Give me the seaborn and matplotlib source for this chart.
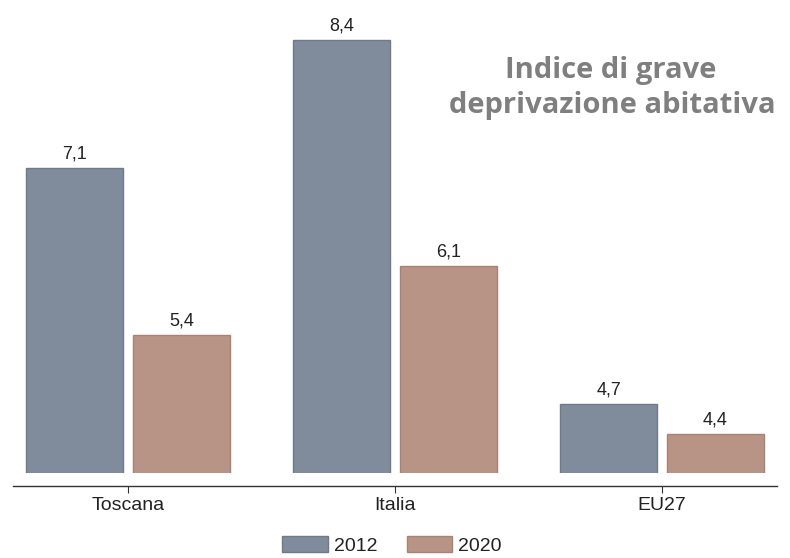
import matplotlib
matplotlib.use("Agg")
import matplotlib.pyplot as plt
import seaborn as sns
import pandas as pd

regions = ["Toscana", "Italia", "EU27"]
years = ["2012", "2020"]
values_2012 = [7.1, 8.4, 4.7]
values_2020 = [5.4, 6.1, 4.4]
title_lines = ["Indice di grave", "deprivazione abitativa"]

colors = {"2012": "#808c9c", "2020": "#b79486"}
edges = {"2012": "#6c7a8c", "2020": "#a88272"}

df = pd.DataFrame({
    "region": regions * 2,
    "year": ["2012"] * 3 + ["2020"] * 3,
    "value": values_2012 + values_2020,
})

sns.set_style("white")
plt.rcParams["font.family"] = ["Liberation Sans", "DejaVu Sans"]

W, H = 790, 558
fig = plt.figure(figsize=(W / 100, H / 100), dpi=100)
ax_left, ax_right = 13 / W, 777 / W
ax_bottom = (H - 473) / H
ax = fig.add_axes([ax_left, ax_bottom, ax_right - ax_left, 1 - ax_bottom])

sns.barplot(data=df, x="region", y="value", hue="year", order=regions,
            hue_order=years, palette=colors, width=0.8, gap=0.09,
            saturation=1, linewidth=1, ax=ax, legend=False)

for cont, yr in zip(ax.containers, years):
    for p in cont:
        p.set_edgecolor(edges[yr])
        p.set_linewidth(1.0)
    labels = [f"{v:.1f}".replace(".", ",") for v in cont.datavalues]
    ax.bar_label(cont, labels=labels, padding=4, fontsize=13, color="#222222")

ax.set_xlim(-0.43, 2.43)
ax.set_ylim(4.0, 4.0 + 473 / 98.5)
ax.set_xlabel("")
ax.set_ylabel("")
ax.set_yticks([])
for s in ["left", "top", "right"]:
    ax.spines[s].set_visible(False)
ax.spines["bottom"].set_position(("outward", 9.4))
ax.spines["bottom"].set_color("#333333")
ax.spines["bottom"].set_linewidth(1.0)
ax.tick_params(axis="x", bottom=True, length=5, width=0.8, color="#333333",
               labelsize=14, labelcolor="#222222", pad=3)

# Legend
from matplotlib.patches import Patch
handles = [Patch(facecolor=colors[y], edgecolor=edges[y], linewidth=1) for y in years]
fig.legend(handles, years, loc="upper center", bbox_to_anchor=(392 / W, 1 - 526 / H),
           ncol=2, frameon=False, fontsize=14, handlelength=2.35, handleheight=0.95,
           handletextpad=0.3, columnspacing=1.5, borderpad=0, labelcolor="#222222")

# Title
tfont = ["Open Sans", "DejaVu Sans"]
fig.text(611 / W, 1 - 78 / H, title_lines[0], ha="center", va="baseline",
         fontsize=21, fontweight="bold", color="#7f7f7f", family=tfont)
fig.text(612 / W, 1 - 113 / H, title_lines[1], ha="center", va="baseline",
         fontsize=21, fontweight="bold", color="#7f7f7f", family=tfont)

fig.savefig("out.png", dpi=100)
